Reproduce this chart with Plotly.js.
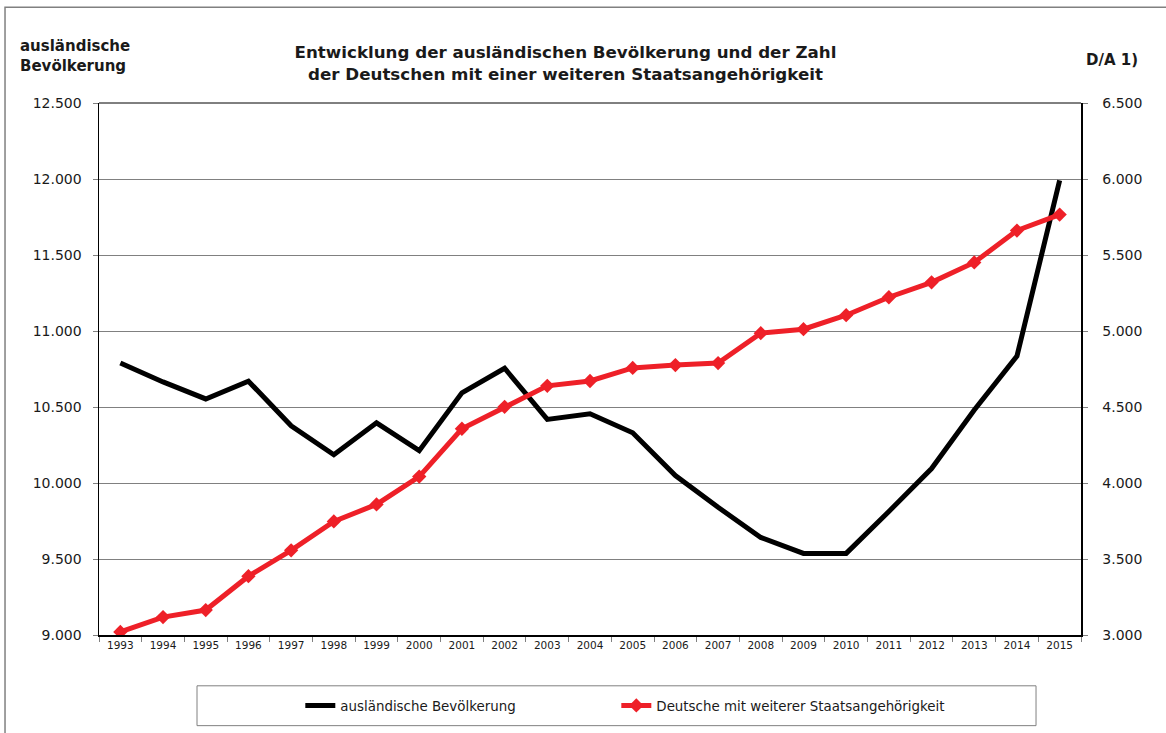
<!DOCTYPE html>
<html>
<head>
<meta charset="utf-8">
<script src="https://cdn.plot.ly/plotly-3.0.1.min.js"></script>
<style>html,body{margin:0;padding:0;background:#fff;}#chart{width:1166px;height:733px;}</style>
</head>
<body>
<div id="chart"></div>
<script>
var years = ["1993","1994","1995","1996","1997","1998","1999","2000","2001","2002","2003","2004","2005","2006","2007","2008","2009","2010","2011","2012","2013","2014","2015"];
var auslaendisch = [10790,10665,10553,10670,10376,10186,10396,10213,10593,10755,10418,10455,10330,10049,9840,9642,9537,9537,9813,10095,10480,10835,11991];
var doppelt = [3020,3118,3164,3387,3557,3747,3859,4042,4357,4501,4639,4671,4757,4776,4789,4986,5012,5104,5222,5320,5451,5661,5766];

var F = "DejaVu Sans, Verdana, sans-serif";
var traces = [
  {x: years, y: auslaendisch, type: "scatter", mode: "lines", name: "ausländische Bevölkerung",
   line: {color: "#000000", width: 5}, yaxis: "y", legend: "legend"},
  {x: years, y: doppelt, type: "scatter", mode: "lines+markers", name: "Deutsche mit weiterer Staatsangehörigkeit",
   line: {color: "#ee2028", width: 5}, marker: {symbol: "diamond", size: 11, color: "#ee2028"}, yaxis: "y2", legend: "legend2"}
];

var legFont = {family: F, size: 13.4, color: "#1a1a1a"};
var layout = {
  width: 1166, height: 733,
  margin: {l: 99, r: 85, t: 103, b: 96},
  paper_bgcolor: "#ffffff", plot_bgcolor: "#ffffff",
  font: {family: F, color: "#1a1a1a"},
  showlegend: true,
  legend: {orientation: "h", x: 0.205, xanchor: "left", y: -0.133, yanchor: "middle",
    font: legFont, bgcolor: "rgba(0,0,0,0)"},
  legend2: {orientation: "h", x: 0.5268, xanchor: "left", y: -0.133, yanchor: "middle",
    font: legFont, bgcolor: "rgba(0,0,0,0)"},
  xaxis: {type: "category", showgrid: false, showline: true, linecolor: "#000", linewidth: 1.5,
    ticks: "outside", tickson: "boundaries", ticklen: 5, tickcolor: "#808080",
    tickfont: {family: F, size: 10.5, color: "#1a1a1a"}, range: [-0.5, 22.5], fixedrange: true},
  yaxis: {range: [9000, 12500], tickvals: [9000,9500,10000,10500,11000,11500,12000,12500],
    ticktext: ["9.000","9.500","10.000","10.500","11.000","11.500","12.000","12.500"],
    showgrid: true, gridcolor: "#808080", gridwidth: 1, showline: true, linecolor: "#000", linewidth: 1.5,
    ticks: "outside", ticklen: 5, tickcolor: "#808080", ticklabelstandoff: 8,
    tickfont: {family: F, size: 14, color: "#1a1a1a"}, zeroline: false},
  yaxis2: {range: [3000, 6500], overlaying: "y", side: "right",
    tickvals: [3000,3500,4000,4500,5000,5500,6000,6500],
    ticktext: ["3.000","3.500","4.000","4.500","5.000","5.500","6.000","6.500"],
    showgrid: false, showline: true, linecolor: "#000", linewidth: 1.5,
    ticks: "outside", ticklen: 5, tickcolor: "#808080", ticklabelstandoff: 12,
    tickfont: {family: F, size: 14, color: "#1a1a1a"}, zeroline: false},
  title: {text: "Entwicklung der ausländischen Bevölkerung und der Zahl<br>der Deutschen mit einer weiteren Staatsangehörigkeit",
    font: {family: F, size: 16.7, color: "#1a1a1a", weight: "bold"}, x: 0.485, xanchor: "center", y: 0.921, yanchor: "middle"},
  annotations: [
    {text: "<b>ausländische<br>Bevölkerung</b>", xref: "paper", yref: "paper", x: -0.082, y: 1.127,
     xanchor: "left", yanchor: "top", showarrow: false, align: "left", font: {family: F, size: 15, color: "#1a1a1a"}},
    {text: "<b>D/A 1)</b>", xref: "paper", yref: "paper", x: 1.003, y: 1.08, xanchor: "left", yanchor: "middle",
     showarrow: false, font: {family: F, size: 15, color: "#1a1a1a"}}
  ],
  shapes: [
    {type: "rect", xref: "paper", yref: "paper", x0: -0.0957, x1: 1.2, y0: -0.3, y1: 1.18,
     line: {color: "#808080", width: 1.5}, fillcolor: "rgba(0,0,0,0)", layer: "below"},
    {type: "rect", xref: "paper", yref: "paper", x0: 0.0998, x1: 0.9542, y0: -0.1704, y1: -0.0955,
     line: {color: "#808080", width: 1}, fillcolor: "rgba(0,0,0,0)"},
    {type: "line", xref: "paper", yref: "paper", x0: 0, x1: 1, y0: 1, y1: 1, line: {color: "#000", width: 1}}
  ]
};

Plotly.newPlot("chart", traces, layout, {displayModeBar: false, staticPlot: true});
</script>
</body>
</html>
